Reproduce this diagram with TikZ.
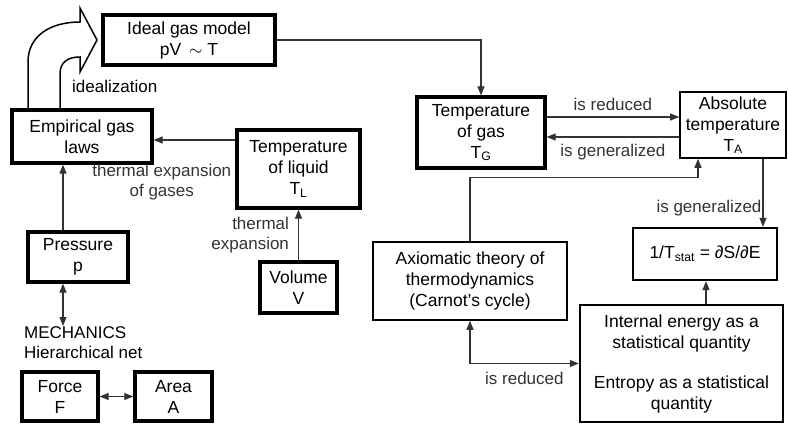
\documentclass[tikz,border=0pt]{standalone}
\usepackage{fontspec}
\setmainfont{Liberation Sans}
\usetikzlibrary{arrows.meta,positioning,calc}
\tikzset{
  box/.style={draw,rectangle,inner sep=0pt,align=center,font=\fontsize{17.5}{21}\selectfont},
  thickbox/.style={box,line width=3.2pt},
  midbox/.style={box,line width=2.4pt},
  thinbox/.style={box,line width=1.6pt},
  link/.style={line width=1.1pt,black!80,-{Triangle[length=9pt,width=7pt]}},
  twolink/.style={line width=1.1pt,black!80,{Triangle[length=9pt,width=7pt]}-{Triangle[length=9pt,width=7pt]}},
  lbl/.style={inner sep=0pt,font=\fontsize{17}{20}\selectfont}
}

\begin{document}
\begin{tikzpicture}[x=1pt,y=-1pt]
  \useasboundingbox (0,0) rectangle (788,426);
  % boxes
  \node[thickbox,minimum width=172pt,minimum height=50pt] (ideal) at (189,40) {Ideal gas model\\pV \,$\sim$ T};
  \node[thickbox,minimum width=140pt,minimum height=53pt] (empir) at (82,136.5) {Empirical gas\\laws};
  \node[thickbox,minimum width=123pt,minimum height=78pt] (liqT) at (298.5,169) {Temperature\\of liquid\\T\textsubscript{L}};
  \node[thickbox,minimum width=77pt,minimum height=51pt] (vol) at (298.5,287.5) {Volume\\V};
  \node[thickbox,minimum width=100pt,minimum height=50pt] (press) at (78,257) {Pressure\\p};
  \node[thickbox,minimum width=76pt,minimum height=49pt] (force) at (60,396.5) {Force\\F};
  \node[thickbox,minimum width=77pt,minimum height=49pt] (area) at (173.5,396.5) {Area\\A};
  \node[thickbox,minimum width=128pt,minimum height=71pt] (gasT) at (481,132.5) {Temperature\\of gas\\T\textsubscript{G}};
  \node[thinbox,minimum width=106pt,minimum height=66pt] (absT) at (733,125) {Absolute\\temperature\\T\textsubscript{A}};
  \node[midbox,minimum width=144pt,minimum height=52pt] (stat) at (705,254) {1/T\textsubscript{stat} = ∂S/∂E};
  \node[thinbox,minimum width=194pt,minimum height=78pt] (axiom) at (470,281) {Axiomatic theory of\\thermodynamics\\(Carnot's cycle)};
  \node[midbox,minimum width=203pt,minimum height=117pt] (intern) at (681.5,363.5) {Internal energy as a\\statistical quantity\\[19pt]Entropy as a statistical\\quantity};
  \node[lbl,align=left,anchor=north west] (mech) at (24,326) {MECHANICS\\Hierarchical net};

  % idealization arrow
  \draw[line width=1.5pt,line join=miter] (28,110) -- (28,62) .. controls (28,36) and (50,22) .. (80,22)
    -- (80,8) -- (97,40) -- (80,72) -- (80,57) .. controls (68,57) and (60,62) .. (60,74) -- (60,110);
  \node[lbl,anchor=west] (ideallbl) at (72,86) {idealization};

  % connectors
  \draw[link] (ideal.east) -| (gasT.north);
  \draw[link] ([yshift=15.5pt]gasT.east) -- ([yshift=8pt]absT.west)
    node[lbl,midway,above=6pt] {is reduced};
  \draw[link] ([yshift=-12pt]absT.west) -- ([yshift=-4.5pt]gasT.east)
    node[lbl,midway,below=7pt] {is generalized};
  \draw[link] (axiom.north) -- ++(0,-64) -| ([xshift=-35pt]absT.south);
  \draw[link] ([xshift=30pt]absT.south) -- ([xshift=58pt]stat.north)
    node[lbl,pos=0.72,left=1pt] {is generalized};
  \draw[link] ([xshift=24.5pt]intern.north) -- ([xshift=1pt]stat.south);
  \draw[twolink] (axiom.south) |- (intern.west)
    node[lbl,pos=0.75,below=8pt] {is reduced};
  \draw[link] ([yshift=29pt]liqT.west) -- ([yshift=-3.5pt]empir.east)
    node[lbl,pos=0.9,below=24pt,align=center] {thermal expansion\\of gases};
  \draw[link] (vol.north) -- (liqT.south)
    node[lbl,midway,left=9pt,align=right] {thermal\\expansion};
  \draw[link] ([xshift=-15pt]press.north) -- ([xshift=-19pt]empir.south);
  \coordinate (pbot) at ([xshift=-15pt]press.south);
  \draw[twolink] (pbot) -- (pbot |- mech.north);
  \draw[twolink] (force.east) -- (area.west);
\end{tikzpicture}
\end{document}
